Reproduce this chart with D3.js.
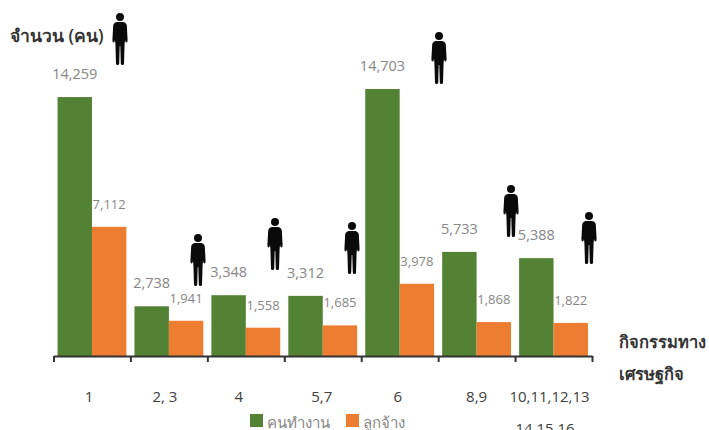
<!DOCTYPE html>
<html>
<head>
<meta charset="utf-8">
<script src="https://cdn.jsdelivr.net/npm/d3@7"></script>
<style>
body { margin: 0; background: #fff; overflow: hidden; }
text { font-family: "Open Sans", "Noto Sans", sans-serif; }
</style>
</head>
<body>
<script>
const groups = ["1", "2, 3", "4", "5,7", "6", "8,9", "10,11,12,13"];
const workers = [14259, 2738, 3348, 3312, 14703, 5733, 5388];
const employees = [7112, 1941, 1558, 1685, 3978, 1868, 1822];
const seriesNames = ["คนทำงาน", "ลูกจ้าง"];
const seriesColors = ["#548235", "#ed7d31"];

// the group labels do not sit exactly under their bars in the original
const labelShift = [-3, -4, -7, -1, -2, 0, -4];

// top-left corner of each person icon
const iconSpots = [[112, 13], [190, 234], [267, 218], [344, 222], [431, 32], [503, 185], [581, 212]];

const svg = d3.select("body").append("svg").attr("width", 709).attr("height", 430);

const x = d3.scaleBand().domain(groups).range([53.5, 592]).paddingInner(0.105).paddingOuter(0.0525);
const edge = d3.scaleLinear().domain([0, groups.length]).range([53.5, 592]);
const y = d3.scaleLinear().domain([0, 14703]).range([356, 89]);
const barW = x.bandwidth() / 2;

[workers, employees].forEach((values, s) => {
    svg.append("g").selectAll("rect").data(values).join("rect")
        .attr("x", (d, i) => x(groups[i]) + s * barW)
        .attr("y", d => y(d))
        .attr("width", barW)
        .attr("height", d => y(0) - y(d))
        .attr("fill", seriesColors[s]);

    svg.append("g").selectAll("text").data(values).join("text")
        .attr("x", (d, i) => x(groups[i]) + s * barW + barW / 2)
        .attr("y", d => y(d) - (s ? 18 : 18))
        .attr("text-anchor", "middle")
        .attr("font-size", s ? 13 : 14.5)
        .attr("fill", "#868686")
        .text(d3.format(","));
});

// axis with ticks between the groups
const axis = svg.append("g").attr("transform", "translate(0,356)")
    .call(d3.axisBottom(edge).tickValues(d3.range(groups.length + 1)).tickSize(6).tickSizeOuter(0).tickFormat(""));
axis.selectAll("path, line").attr("stroke", "#333").attr("stroke-width", 2);

svg.append("g").selectAll("text").data(groups).join("text")
    .attr("x", (d, i) => x(d) + x.bandwidth() / 2 + labelShift[i])
    .attr("y", 402)
    .attr("text-anchor", "middle")
    .attr("font-size", 15)
    .attr("fill", "#404040")
    .text(d => d);
svg.append("text").attr("x", 545).attr("y", 434)
    .attr("text-anchor", "middle").attr("font-size", 15).attr("fill", "#404040").text("14,15,16");

svg.append("text").attr("x", 10).attr("y", 42).attr("font-size", 17.5).attr("font-weight", 600)
    .attr("fill", "#333").text("จำนวน (คน)");
svg.append("text").attr("x", 619).attr("y", 348).attr("font-size", 16.5).attr("font-weight", 600)
    .attr("fill", "#333").text("กิจกรรมทาง");
svg.append("text").attr("x", 619).attr("y", 380).attr("font-size", 16.5).attr("font-weight", 600)
    .attr("fill", "#333").text("เศรษฐกิจ");

// legend
const legendX = [250, 346];
seriesNames.forEach((name, i) => {
    svg.append("rect").attr("x", legendX[i]).attr("y", 414).attr("width", 13).attr("height", 13).attr("fill", seriesColors[i]);
    svg.append("text").attr("x", legendX[i] + 17).attr("y", 428).attr("font-size", 15).attr("fill", "#868686").text(name);
});

// person icon, drawn in a 16x52 box
const person = "M8 0a4 4 0 1 0 0 8a4 4 0 1 0 0-8Z"
    + "M4.8 9L11.2 9Q14.4 9.5 14.8 12.5L15.6 27Q15.6 29.5 14.4 29.5Q13.4 29.5 13 27L12.6 31L12 51Q11.8 52 10.4 52Q8.8 52 8.8 50.5L8.3 33L7.7 33L7.2 50.5Q7.2 52 5.6 52Q4.2 52 4 51L3.4 31L3 27Q2.6 29.5 1.6 29.5Q.4 29.5 .4 27L1.2 12.5Q1.6 9.5 4.8 9Z";
svg.append("g").selectAll("path").data(iconSpots).join("path")
    .attr("transform", d => "translate(" + d[0] + "," + d[1] + ")")
    .attr("d", person)
    .attr("fill", "#0a0a0a");
</script>
</body>
</html>
